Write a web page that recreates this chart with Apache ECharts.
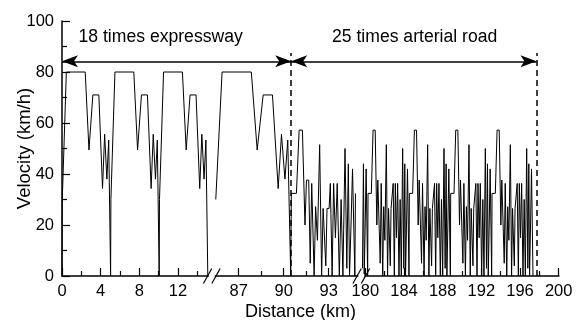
<!DOCTYPE html>
<html><head><meta charset="utf-8">
<script src="https://cdn.jsdelivr.net/npm/echarts@6/dist/echarts.min.js"></script>
<style>html,body{margin:0;padding:0;background:#fff}#c{width:580px;height:320px}</style>
</head><body><div id="c"></div>
<script>
// ---------- data ----------
// one expressway driving cycle (distance offset within the cycle, velocity)
const expresswayCycleKm  = [0, 0.03, 0.45, 2.40, 2.79, 3.19, 3.81, 4.19, 4.41, 4.64, 4.83];
const expresswayCycleKmh = [0, 30,   80,   80,   49.4, 71,   71,   34.3, 55.6, 38,   53.3];
const expresswayCycleLengthKm = 5.026;
const expresswayCycleCount = 18;
// one arterial-road driving cycle
const arterialCycleKm  = [0, 0.04, 0.38, 0.56, 0.78, 0.95, 1.05, 1.20, 1.30, 1.40, 1.50, 1.56, 1.66, 1.78, 1.93, 2.06, 2.16, 2.26, 2.34, 2.42, 2.56, 2.64, 2.76, 2.86, 2.98, 3.10, 3.24, 3.36, 3.48, 3.62, 3.74, 3.84, 3.92, 4.02, 4.12];
const arterialCycleKmh = [0, 32.4, 32.4, 57.2, 57.2, 20,   37.6, 37.6, 5,    36.3, 36.3, 0,    27.2, 14,   51.5, 0,    26.5, 26.5, 4,    26.5, 26.5, 36.3, 0,    36.3, 15,   36.3, 0,    30,   0,    50,   3,    44,   0,    20,   42];
const arterialCycleLengthKm = 4.275;
const arterialCycleCount = 25;

const xMajorTicksKm = [0, 4, 8, 12, 87, 90, 93, 180, 184, 188, 192, 196, 200];
const xMinorTicksKm = [2, 6, 10, 14, 88.5, 91.5, 182, 186, 190, 194, 198];

const sectionBoundaryKm = [90.5, 197.7];
const sectionLabels = ['18 times expressway', '25 times arterial road'];
const sectionLabelKm = [10.2, 185.1];
const sectionLabelKmh = 93.8;
const arrowKmh = 84.2;
const dashTopKmh = 87.5;

// ---------- broken distance axis: visible pieces ----------
const axisPieces = [
  {from: 0,     to: 15.1,  start: 0,     scale: 9.67},
  {from: 85.46, to: 95.1,  start: 153.6, scale: 15},
  {from: 179.7, to: 200,   start: 300.4, scale: 9.67}
];
function toU(d) {
  for (const p of axisPieces) {
    if (d >= p.from - 1e-9 && d <= p.to + 1e-9) return p.start + (d - p.from) * p.scale;
  }
  return null;
}

// full profile from the repeated cycles
const profile = [];
for (let k = 0; k < expresswayCycleCount; k++)
  expresswayCycleKm.forEach((o, i) => profile.push([k * expresswayCycleLengthKm + o, expresswayCycleKmh[i]]));
const arterialStart = expresswayCycleCount * expresswayCycleLengthKm;
for (let k = 0; k < arterialCycleCount; k++)
  arterialCycleKm.forEach((o, i) => profile.push([arterialStart + k * arterialCycleLengthKm + o, arterialCycleKmh[i]]));
profile.push([arterialStart + arterialCycleCount * arterialCycleLengthKm, 0]);

const pieceData = axisPieces.map(p =>
  profile.filter(([d]) => d >= p.from - 1e-9 && d <= p.to + 1e-9).map(([d, v]) => [toU(d), v]));

const FONT = '"Liberation Sans", Arial, Helvetica, sans-serif';
const majorU = xMajorTicksKm.map(toU);
const minorU = xMinorTicksKm.map(toU);
const U_MAX = 497;

const chart = echarts.init(document.getElementById('c'), null, {renderer: 'canvas'});
const lineSeries = pieceData.map((data, i) => ({
  type: 'line', data, symbol: 'none', showSymbol: false, animation: false,
  lineStyle: {color: '#000', width: 1}, xAxisIndex: 0, yAxisIndex: 0, z: 2
}));
lineSeries[0].markLine = {
  silent: true, animation: false, symbol: ['arrow', 'arrow'], symbolSize: [9, 16],
  lineStyle: {color: '#000', width: 1.5, type: 'solid'}, label: {show: false},
  data: [
    [{coord: [toU(0), arrowKmh]}, {coord: [toU(sectionBoundaryKm[0]), arrowKmh]}],
    [{coord: [toU(sectionBoundaryKm[0]), arrowKmh]}, {coord: [toU(sectionBoundaryKm[1]), arrowKmh]}]
  ]
};
lineSeries[1].markLine = {
  silent: true, animation: false, symbol: ['none', 'none'],
  lineStyle: {color: '#000', width: 1.5, type: [6, 4]}, label: {show: false},
  data: sectionBoundaryKm.map(b => [{coord: [toU(b), 0]}, {coord: [toU(b), dashTopKmh]}])
};
lineSeries[2].markPoint = {
  silent: true, animation: false, symbol: 'circle', symbolSize: 1,
  itemStyle: {color: 'rgba(0,0,0,0)'},
  label: {show: true, position: 'inside', color: '#000', fontSize: 17.6, fontFamily: FONT,
          formatter: p => p.name},
  data: sectionLabels.map((t, i) => ({name: t, coord: [toU(sectionLabelKm[i]), sectionLabelKmh]}))
};

chart.setOption({
  backgroundColor: '#fff',
  animation: false,
  grid: {left: 62, top: 21, width: 497, height: 255, containLabel: false, outerBoundsMode: 'none'},
  xAxis: [{
    type: 'value', min: 0, max: U_MAX, position: 'bottom',
    axisLine: {show: true, onZero: false, lineStyle: {color: '#000', width: 1.5}},
    axisTick: {show: true, inside: true, length: 8, customValues: majorU, lineStyle: {color: '#000', width: 1.2}},
    axisLabel: {show: true, customValues: majorU, color: '#000', fontSize: 16.5, fontFamily: FONT, margin: 7,
      formatter: v => { const i = majorU.findIndex(u => Math.abs(u - v) < 0.01); return i >= 0 ? String(xMajorTicksKm[i]) : ''; }},
    splitLine: {show: false},
    name: 'Distance (km)', nameLocation: 'middle', nameGap: 27, nameMoveOverlap: false,
    nameTextStyle: {color: '#000', fontSize: 18, fontFamily: FONT, padding: [0, 20, 0, 0]}
  }, {
    type: 'value', min: 0, max: U_MAX, position: 'bottom',
    axisLine: {show: false},
    axisTick: {show: true, inside: true, length: 5, customValues: minorU, lineStyle: {color: '#000', width: 1.2}},
    axisLabel: {show: false}, splitLine: {show: false}
  }],
  yAxis: {
    type: 'value', min: 0, max: 100, interval: 20,
    axisLine: {show: true, lineStyle: {color: '#000', width: 1.5}},
    axisTick: {show: true, inside: true, length: 8, lineStyle: {color: '#000', width: 1.2}},
    minorTick: {show: true, splitNumber: 2, length: 5, lineStyle: {color: '#000', width: 1.2}},
    axisLabel: {color: '#000', fontSize: 16.5, fontFamily: FONT, margin: 8},
    splitLine: {show: false},
    name: 'Velocity (km/h)', nameLocation: 'middle', nameGap: 28, nameMoveOverlap: false,
    nameTextStyle: {color: '#000', fontSize: 18.5, fontFamily: FONT}
  },
  series: lineSeries
});

// axis break marks "//"
const breaksU = [
  (toU(axisPieces[0].to) + toU(axisPieces[1].from)) / 2,
  (toU(axisPieces[1].to) + toU(axisPieces[2].from)) / 2
];
const y0 = chart.convertToPixel({yAxisIndex: 0}, 0);
const gfx = [];
breaksU.forEach(u => {
  const c = chart.convertToPixel({xAxisIndex: 0}, u);
  gfx.push({type: 'rect', z: 100, shape: {x: c - 3, y: y0 - 2, width: 6, height: 4}, style: {fill: '#fff'}});
  gfx.push({type: 'line', z: 101, shape: {x1: c - 8.4, y1: y0 + 7.5, x2: c, y2: y0 - 7.5}, style: {stroke: '#000', lineWidth: 1.2}});
  gfx.push({type: 'line', z: 101, shape: {x1: c, y1: y0 + 7.5, x2: c + 8.4, y2: y0 - 7.5}, style: {stroke: '#000', lineWidth: 1.2}});
});
chart.setOption({graphic: gfx});
</script>
</body></html>
